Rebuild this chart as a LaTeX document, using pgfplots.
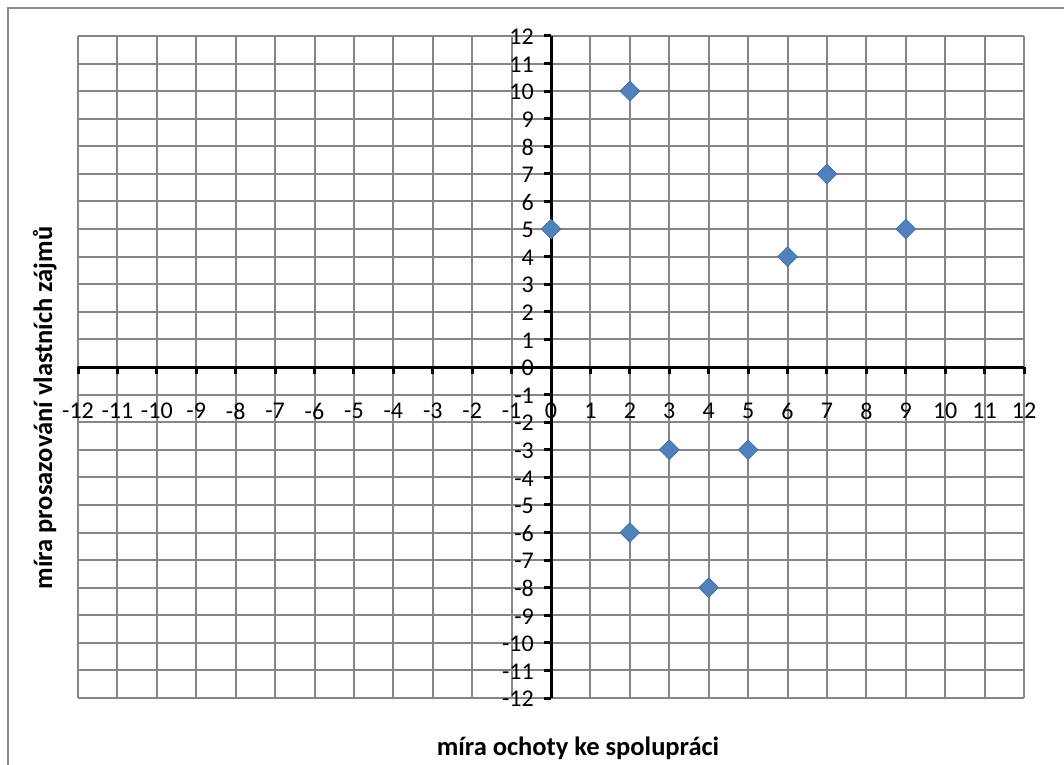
\documentclass[border=0pt]{standalone}
\usepackage{fontspec}
\setmainfont{Carlito}
\usepackage{pgfplots}
\pgfplotsset{compat=1.18}
\definecolor{gridc}{HTML}{868686}
\definecolor{frame}{HTML}{8C8C8C}
\definecolor{mfill}{HTML}{4F81BD}
\definecolor{mdraw}{HTML}{3E6CA6}
\begin{document}
\begin{tikzpicture}
\path[use as bounding box] (0,0) rectangle (1064pt,764pt);
\draw[frame, line width=2pt] (8pt,-5pt) -- (8pt,756pt) -- (1070pt,756pt);
\begin{axis}[
  at={(78pt,66pt)}, anchor=south west,
  scale only axis, width=946pt, height=662pt,
  xmin=-12, xmax=12, ymin=-12, ymax=12,
  axis lines=middle,
  axis line style={-, black, line width=3pt},
  xtick={-12,...,12}, ytick={-12,...,12},
  grid=major, grid style={gridc, line width=2pt},
  tick style={black, line width=3pt},
  tick align=outside, major tick length=7pt,
  hide obscured x ticks=false, hide obscured y ticks=false,
  /pgf/number format/assume math mode=true,
  tick label style={font=\fontsize{24pt}{28pt}\selectfont, inner sep=0pt},
  xticklabel style={anchor=center, yshift=-37pt},
  yticklabel style={anchor=east, xshift=-10pt, yshift=-1pt},
  clip=false,
]
\addplot[only marks, mark=square*, mark size=7pt,
  mark options={rotate=45, fill=mfill, draw=mdraw, line width=0.6pt}]
  coordinates {(0,5) (2,10) (7,7) (6,4) (9,5) (3,-3) (5,-3) (2,-6) (4,-8)};
\end{axis}
\node[anchor=base, font=\fontsize{26.5pt}{30pt}\selectfont\bfseries] at (578pt,9pt) {míra ochoty ke spolupráci};
\node[anchor=base, rotate=90, font=\fontsize{26.5pt}{30pt}\selectfont\bfseries] at (52pt,356pt) {míra prosazování vlastních zájmů};
\end{tikzpicture}
\end{document}
